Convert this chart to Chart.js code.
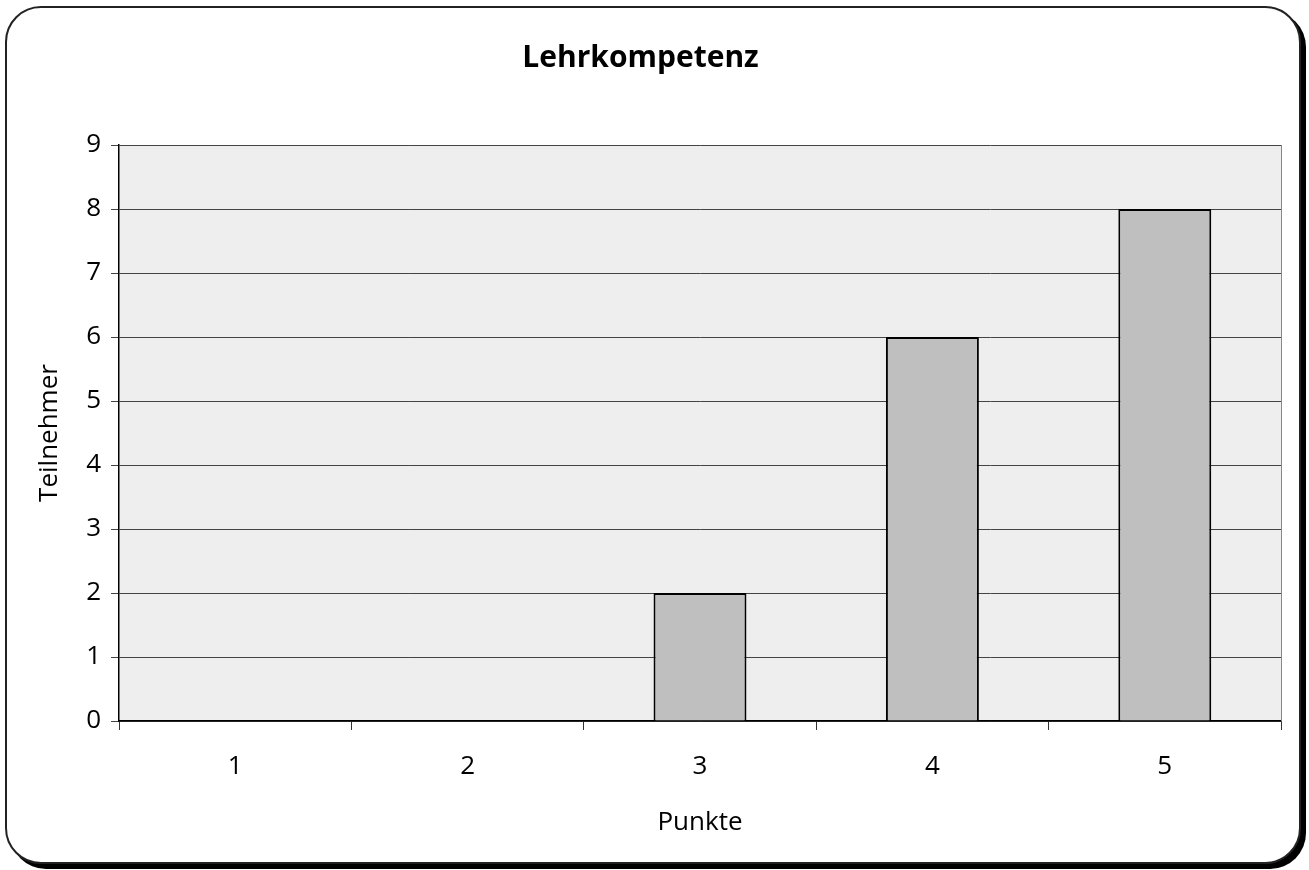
<!DOCTYPE html>
<html>
<head>
<meta charset="utf-8">
<script src="https://cdn.jsdelivr.net/npm/chart.js@4.4.0/dist/chart.umd.min.js"></script>
<style>
  html, body { margin: 0; padding: 0; background: #fff; }
  #frame {
    position: absolute; left: 5px; top: 6px; width: 1292px; height: 854px;
    border: 2px solid #222; border-radius: 36px; box-shadow: 5px 5px 0 #000;
    background: #fff;
  }
  #wrap { position: absolute; left: 0; top: 0; width: 1309px; height: 870px; }
</style>
</head>
<body>
<div id="frame"></div>
<div id="wrap"><canvas id="chart"></canvas></div>
<script>
const CHART_TITLE = "Lehrkompetenz";
const X_TITLE = "Punkte";
const Y_TITLE = "Teilnehmer";
const CATEGORIES = ["1", "2", "3", "4", "5"];
const PARTICIPANTS = [0, 0, 2, 6, 8];
const Y_MAX = 9;

const FONT = "'Open Sans', 'DejaVu Sans', sans-serif";

const plotBackground = {
  id: "plotBackground",
  beforeDraw(chart) {
    const { ctx, chartArea: a } = chart;
    ctx.save();
    ctx.fillStyle = "#eeeeee";
    ctx.fillRect(a.left, a.top, a.right - a.left, a.bottom - a.top);
    ctx.restore();
  },
  afterDatasetsDraw(chart) {
    const { ctx, chartArea: a } = chart;
    ctx.save();
    ctx.strokeStyle = "#888888";
    ctx.lineWidth = 1;
    ctx.beginPath();
    ctx.moveTo(a.right + 0.5, a.top);
    ctx.lineTo(a.right + 0.5, a.bottom);
    ctx.stroke();
    ctx.restore();
  },
};

function createChart(canvas) {
  return new Chart(canvas.getContext("2d"), {
    type: "bar",
    data: {
      labels: CATEGORIES,
      datasets: [
        {
          label: Y_TITLE,
          data: PARTICIPANTS,
          backgroundColor: "#bfbfbf",
          borderColor: "#000000",
          borderWidth: 2,
          barPercentage: 0.4,
          categoryPercentage: 1,
        },
      ],
    },
    options: {
      responsive: false,
      animation: false,
      layout: { padding: { left: 0, right: 28, top: 0, bottom: 0 } },
      scales: {
        x: {
          grid: {
            offset: true,
            drawOnChartArea: false,
            drawTicks: true,
            tickLength: 9,
            color: "#333333",
          },
          border: { color: "#000000", width: 1.5 },
          ticks: { color: "#000", font: { family: FONT, size: 26 }, padding: 21 },
          title: {
            display: true,
            text: X_TITLE,
            color: "#000",
            font: { family: FONT, size: 26 },
            padding: { top: 0, bottom: 32 },
          },
          afterFit: (scale) => { scale.height = 870 - 721; },
        },
        y: {
          min: 0,
          max: Y_MAX,
          ticks: { stepSize: 1, color: "#000", font: { family: FONT, size: 26 }, padding: 10 },
          grid: { color: "#444444", tickLength: 8, lineWidth: 1 },
          border: { color: "#000000", width: 1.5 },
          title: {
            display: true,
            text: Y_TITLE,
            color: "#000",
            font: { family: FONT, size: 26 },
            padding: { top: 34, bottom: 0 },
          },
          afterFit: (scale) => { scale.width = 119; },
        },
      },
      plugins: {
        legend: { display: false },
        tooltip: { enabled: false },
        title: {
          display: true,
          text: CHART_TITLE,
          color: "#000",
          font: { family: FONT, size: 30, weight: "bold" },
          padding: { top: 40, bottom: 69 },
        },
      },
    },
    plugins: [plotBackground],
  });
}

function init() {
  const canvas = document.getElementById("chart");
  canvas.width = 1309;
  canvas.height = 870;
  createChart(canvas);
}

document.addEventListener("DOMContentLoaded", init);
</script>
</body>
</html>
